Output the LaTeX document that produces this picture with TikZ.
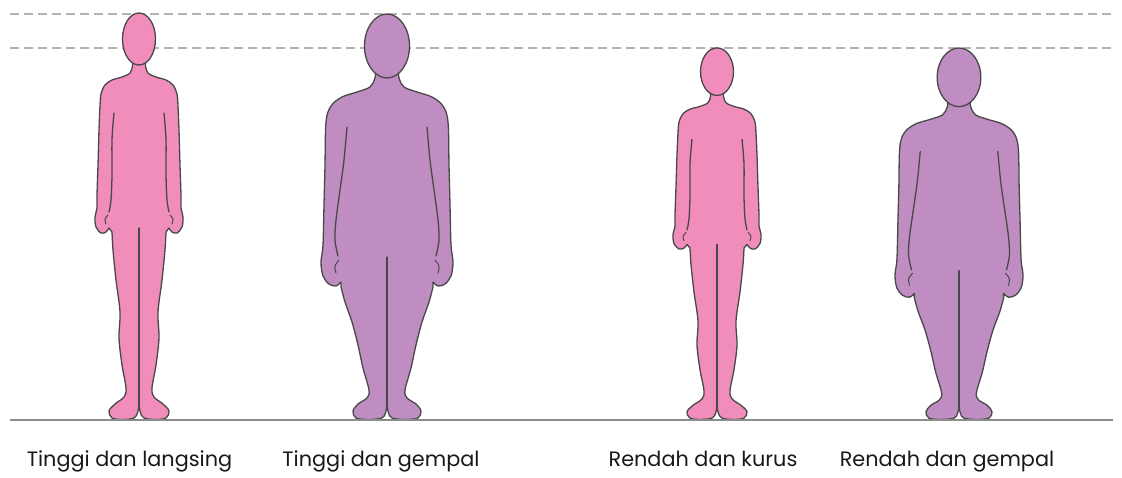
\documentclass[tikz,border=0pt]{standalone}
\usepackage{fontspec}
\setmainfont{Poppins}
\definecolor{pinkbody}{RGB}{240,141,186}
\definecolor{purplebody}{RGB}{192,141,195}
\definecolor{edge}{RGB}{72,72,72}
\definecolor{guidegray}{RGB}{178,178,178}
\definecolor{groundgray}{RGB}{140,140,140}

% right half of a slim figure (x from the body axis, y downwards, ground at 419)
\newcommand\halfslim{plot[smooth,tension=0.55] coordinates {(0,52) (6,56) (6.5,66) (9,73) (17,77) (27,80) (34,85) (38,94) (39,106) (40,130) (41,165) (42,195) (42,208) (44,217) (43,227) (38,233) (33,232) (30,228)}
  -- plot[smooth,tension=0.55] coordinates {(27,232) (26,250) (23,280) (19,312) (20,338) (17,365) (13,388) (15,397) (24,404) (30,411) (27,418) (16,419.5) (5,418) (1.5,413) (0.5,408)}}
\newcommand\armslim{plot[smooth,tension=0.55] coordinates {(25,113) (27,140) (27,175) (28,200) (30,212)}}
\newcommand\thumbslim{plot[smooth] coordinates {(31,215) (34,219) (33,224)}}

% right half of a stocky figure
\newcommand\halfstocky{plot[smooth,tension=0.55] coordinates {(0,60) (10,64) (12,78) (17,87) (30,92) (45,97) (56,106) (61,122) (62,165) (63,205) (64,245) (66,262) (64,276) (58,284) (51,286) (46,282)}
  -- plot[smooth,tension=0.55] coordinates {(46,287) (42,302) (35,322) (29,345) (24,368) (18,390) (20,398) (29,404) (34,411) (31,418) (18,419.5) (5,418) (1.5,413) (0.5,408)}}
\newcommand\armstocky{plot[smooth,tension=0.55] coordinates {(40,127) (43,160) (47,190) (51,220) (52,240) (49,256)}}
\newcommand\thumbstocky{plot[smooth] coordinates {(48,260) (52,266) (51,273)}}

\begin{document}
\begin{tikzpicture}[x=1pt,y=-1pt,
  outline/.style={draw=edge,line width=1.3pt,line join=round,line cap=round},
  guide/.style={draw=guidegray,line width=1.3pt,dash pattern=on 9pt off 5pt},
  ground/.style={draw=groundgray,line width=1.8pt},
  caption/.style={anchor=base,font=\fontsize{20.8}{24}\selectfont,text=black!90}]
\useasboundingbox (0,0) rectangle (1122,477);

% height guides
\draw[guide] (10,14) -- (1115,14);
\draw[guide] (10,48) -- (1115,48);

% one figure: #1 transform, #2 colour, #3 half outline, #4 inner arm, #5 thumb,
% #6 crotch height, #7 head centre y, #8 head x radius, #9 head y radius
\newcommand\person[9]{%
  \begin{scope}[#1]
    \foreach \s in {1,-1}{\fill[#2,xscale=\s] #3 -- (-0.8,408) -- (-0.8,55) -- cycle;}
    \foreach \s in {1,-1}{
      \draw[outline,xscale=\s] #3;
      \draw[outline,xscale=\s] #4;
      \draw[outline,xscale=\s,line width=1pt] #5;
    }
    \draw[outline] (0,#6) -- (0,408);
    \filldraw[#2,outline] (0,#7) ellipse [x radius=#8, y radius=#9];
  \end{scope}}

\person{shift={(139,0)}}{pinkbody}{\halfslim}{\armslim}{\thumbslim}{228}{39}{16.5}{26}
\person{shift={(387,0)}}{purplebody}{\halfstocky}{\armstocky}{\thumbstocky}{257}{46}{22.5}{32}
\person{shift={(717,419)},yscale=0.914,shift={(0,-419)}}{pinkbody}{\halfslim}{\armslim}{\thumbslim}{228}{39}{16.5}{26}
\person{shift={(959,419)},xscale=0.97,yscale=0.916,shift={(0,-419)}}{purplebody}{\halfstocky}{\armstocky}{\thumbstocky}{257}{46}{22.5}{32}

% ground
\draw[ground] (10,420) -- (1113,420);

% captions
\node[caption] (c1) at (129.5,466) {Tinggi dan langsing};
\node[caption] (c2) at (381,466) {Tinggi dan gempal};
\node[caption] (c3) at (703,466) {Rendah dan kurus};
\node[caption] (c4) at (947,466) {Rendah dan gempal};
\end{tikzpicture}
\end{document}
